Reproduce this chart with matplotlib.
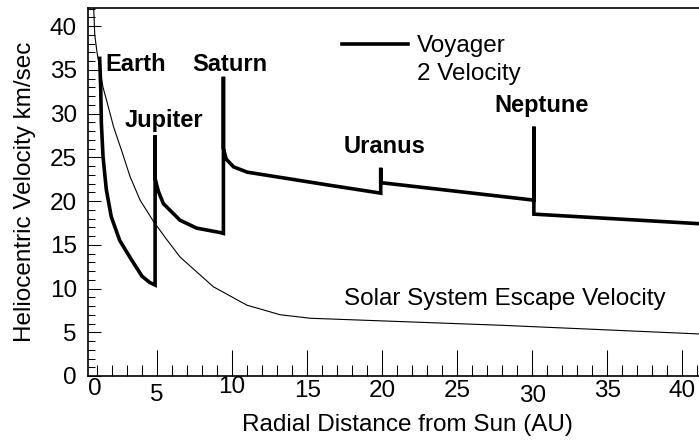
import matplotlib
matplotlib.use("Agg")
import matplotlib.pyplot as plt
from matplotlib.ticker import MultipleLocator

plt.rcParams['font.family'] = ['Liberation Sans', 'DejaVu Sans']

# Voyager 2 heliocentric velocity (AU, km/s)
voyager_au = [1.18, 1.25, 1.29, 1.4, 1.62, 1.95, 2.51, 3.29, 4.0, 4.5, 4.87,
              4.87, 4.87, 4.98, 5.09, 5.42, 6.53, 7.64, 9.2, 9.42,
              9.42, 9.42, 9.6, 10.1, 11.0, 13.2, 16.5, 19.9,
              19.9, 19.9, 30.1,
              30.1, 30.1, 41.2]
voyager_kms = [36.3, 32.7, 28.9, 25.1, 21.3, 18.2, 15.5, 13.3, 11.4, 10.7, 10.4,
               27.5, 22.6, 21.8, 21.1, 19.7, 17.8, 16.9, 16.4, 16.3,
               34.2, 26.0, 24.8, 23.9, 23.3, 22.7, 21.8, 20.9,
               23.8, 22.1, 20.1,
               28.5, 18.5, 17.4]

# solar system escape velocity
escape_au = [0.78, 0.85, 1.0, 1.13, 1.4, 1.67, 2.1, 2.67, 3.2, 3.87, 4.75, 5.6,
             6.53, 8.75, 10.98, 13.2, 15.2, 27.9, 41.2]
escape_kms = [42.0, 39.0, 37.0, 35.7, 33.0, 31.3, 28.5, 25.6, 22.8, 20.1, 17.7,
              15.7, 13.6, 10.2, 8.1, 7.0, 6.6, 5.8, 4.8]

planets = ['Earth', 'Jupiter', 'Saturn', 'Uranus', 'Neptune']
planet_label_xy = [(1.53, 34.9), (2.87, 28.5), (7.33, 34.9), (17.4, 25.5), (27.5, 30.2)]

xticks = [5, 10, 15, 20, 25, 30, 35, 40]
xtick_shift = [4, -4, 0, 0, 0, 5, 0, 0]   # px, label quirks of the original

FS = 17.5

fig = plt.figure(figsize=(6.99, 4.42), dpi=100)
W, H = 699, 442
ax = fig.add_axes([88 / W, (H - 376) / H, (700.5 - 88) / W, (376 - 8) / H])

ax.plot(voyager_au, voyager_kms, color='black', lw=2.6, solid_joinstyle='miter',
        label='Voyager')
ax.plot(escape_au, escape_kms, color='black', lw=0.8)

ax.set_xlim(0.4, 41.2)
ax.set_ylim(0, 42.06)

ax.xaxis.set_major_locator(plt.FixedLocator(xticks))
ax.xaxis.set_minor_locator(MultipleLocator(1))
ax.yaxis.set_major_locator(MultipleLocator(5))
ax.yaxis.set_minor_locator(MultipleLocator(1))

ax.tick_params(axis='x', which='both', direction='in', top=False, labelsize=FS,
               width=0.75, pad=3)
ax.tick_params(axis='x', which='major', length=18.5)
ax.tick_params(axis='x', which='minor', length=8)
ax.tick_params(axis='y', which='both', direction='in', right=False, labelsize=FS,
               width=0.75, pad=8)
ax.tick_params(axis='y', which='major', length=9.5)
ax.tick_params(axis='y', which='minor', length=5)

ax.set_xticklabels([str(t) for t in xticks])
for lab, dy in zip(ax.get_xticklabels(), xtick_shift):
    lab.set_y(-dy / 368)
ax.text(0.87, -(4.2 - 2) / 368, '0', transform=ax.get_xaxis_transform(),
        ha='center', va='top', fontsize=FS)

for s in ax.spines.values():
    s.set_linewidth(1.2)
ax.spines['right'].set_visible(False)

ax.set_xlabel('Radial Distance from Sun (AU)', fontsize=FS)
ax.xaxis.set_label_coords(0.521, -0.102)
ax.set_ylabel('Heliocentric Velocity km/sec', fontsize=FS)
ax.yaxis.set_label_coords(-0.085, 0.5)

for name, (px, py) in zip(planets, planet_label_xy):
    ax.text(px, py, name, fontsize=17, fontweight='bold', ha='left',
            va='baseline')

ax.text(38.9, 8.1, 'Solar System Escape Velocity', fontsize=FS, ha='right',
        va='baseline')

ax.text(22.3, 33.8, '2 Velocity', fontsize=FS, ha='left', va='baseline')
ax.legend(loc='upper left', bbox_to_anchor=(0.415, 0.9266), frameon=False,
          fontsize=FS, handlelength=2.72, handletextpad=0.37, borderpad=0,
          borderaxespad=0)

fig.savefig('out.png', dpi=100)
